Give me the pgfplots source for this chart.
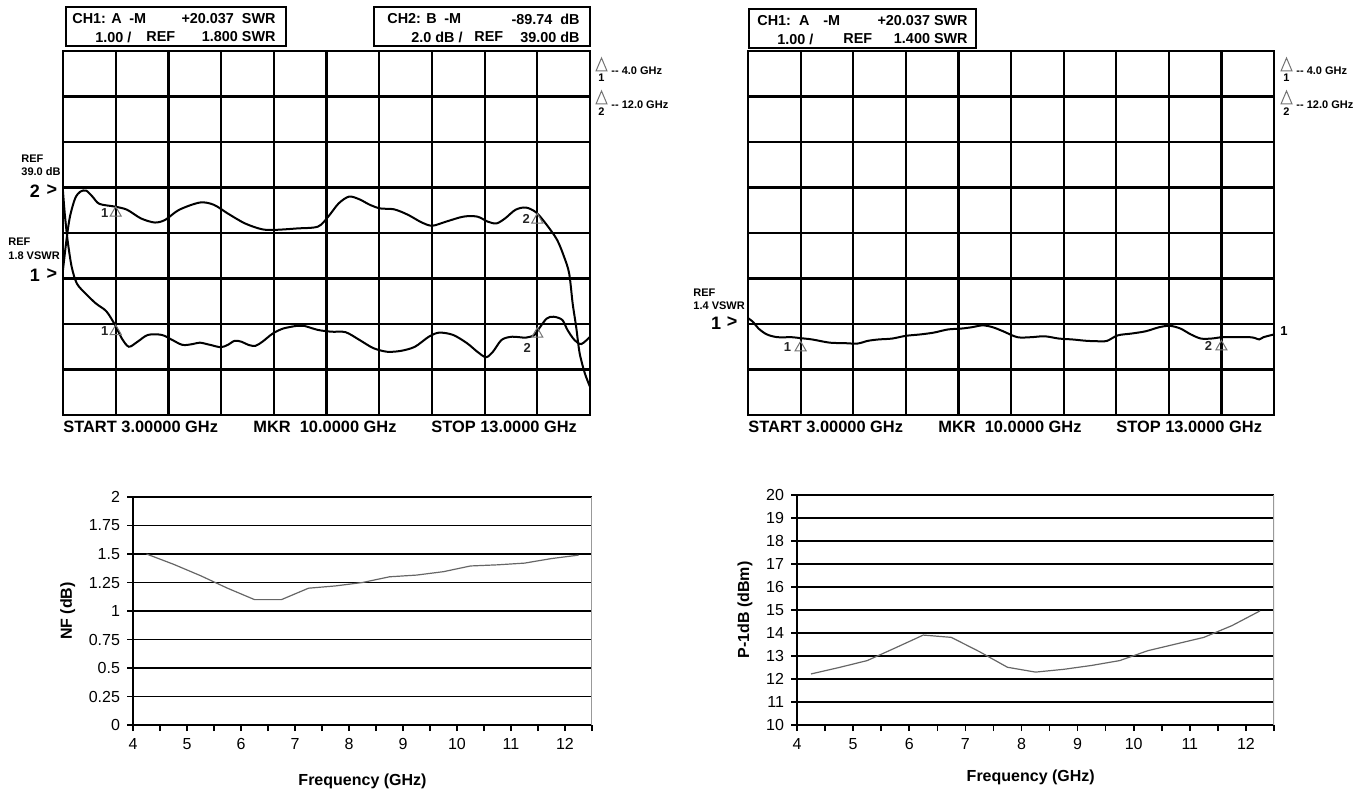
\documentclass[border=0pt]{standalone}
\usepackage{fontspec}
\setmainfont{Liberation Sans}
\usepackage{pgfplots}
\pgfplotsset{compat=1.18}

\newcommand\fs[1]{\fontsize{#1}{#1}\selectfont}

\tikzset{mklab/.style={font=\fs{6.5}\bfseries, text=black!85, inner sep=0pt}}
\pgfplotsset{
  vna/.style={
    scale only axis, width=263.5pt, height=182pt,
    xmin=3, xmax=13, ymin=0, ymax=8,
    xtick={3,...,13}, ytick={0,...,8},
    xticklabels={}, yticklabels={}, major tick length=0pt,
    grid=major, major grid style={black, line width=1.1pt},
    axis line style={black, line width=1.2pt},
  },
  trace/.style={black, line width=1pt, smooth},
  mk/.style={only marks, mark=triangle, mark size=3.2pt,
    mark options={draw=black!55, line width=0.5pt, yshift=-3.2pt}},
  excel/.style={
    scale only axis, anchor=south west,
    axis x line*=bottom, axis y line*=left,
    axis line style={black, line width=0.8pt, -},
    xmin=4, xmax=12.5,
    xtick={4,...,12}, minor xtick={4.5,5.5,...,12.5},
    tick align=outside, major tick length=3pt, minor tick length=3pt,
    tick style={black, line width=0.8pt},
    ymajorgrids, major grid style={black, line width=0.8pt},
    ticklabel style={font=\fs{8}},
    /pgf/number format/assume math mode=true,
    label style={font=\fs{8}\bfseries},
    xlabel={Frequency (GHz)},
  },
  meas/.style={black!60, line width=0.6pt},
}

\begin{document}
\begin{tikzpicture}
\path[use as bounding box] (0,0) rectangle (684pt,396pt);

% ---------------- top left: CH1 SWR and CH2 gain ----------------
\begin{axis}[vna, at={(31.5pt,188.5pt)}, anchor=south west]
% CH2, gain
\addplot[trace] coordinates {
(3.000,3.19) (3.066,3.85) (3.132,4.36) (3.230,4.76) (3.329,4.91) (3.441,4.93)
(3.559,4.80) (3.691,4.64) (3.987,4.58) (4.217,4.51) (4.480,4.32) (4.743,4.23)
(4.941,4.29) (5.204,4.51) (5.599,4.67) (5.862,4.62) (6.125,4.43) (6.454,4.21)
(6.783,4.08) (7.046,4.07) (7.441,4.10) (7.836,4.14) (8.033,4.36) (8.230,4.65)
(8.428,4.80) (8.625,4.74) (8.822,4.62) (9.020,4.54) (9.283,4.52) (9.546,4.40)
(9.809,4.23) (10.007,4.16) (10.270,4.25) (10.599,4.36) (10.862,4.36) (11.059,4.25)
(11.224,4.21) (11.388,4.32) (11.586,4.51) (11.783,4.56) (11.980,4.45) (12.178,4.18)
(12.375,3.85) (12.507,3.48) (12.605,3.11) (12.671,2.45) (12.737,1.94) (12.803,1.36)
(12.901,0.92) (13.000,0.62)};
% CH1, SWR
\addplot[trace] coordinates {
(3.000,4.91) (3.033,4.43) (3.086,3.85) (3.164,3.26) (3.263,2.89) (3.428,2.67)
(3.625,2.45) (3.822,2.28) (3.987,1.98) (4.118,1.68) (4.250,1.50) (4.414,1.61)
(4.612,1.76) (4.875,1.76) (5.072,1.65) (5.270,1.54) (5.467,1.56) (5.599,1.59)
(5.796,1.54) (5.993,1.49) (6.125,1.54) (6.257,1.63) (6.388,1.61) (6.520,1.54)
(6.651,1.52) (6.783,1.61) (6.980,1.79) (7.178,1.90) (7.441,1.96) (7.572,1.96)
(7.836,1.87) (8.099,1.83) (8.362,1.82) (8.625,1.65) (8.888,1.47) (9.151,1.39)
(9.414,1.41) (9.678,1.50) (9.941,1.72) (10.138,1.81) (10.401,1.76) (10.664,1.58)
(10.862,1.39) (11.026,1.27) (11.158,1.39) (11.322,1.65) (11.520,1.72) (11.783,1.70)
(11.947,1.76) (12.033,1.90) (12.178,2.12) (12.309,2.16) (12.474,2.09) (12.572,1.87)
(12.704,1.65) (12.836,1.56) (13.000,1.72)};
\addplot[mk] coordinates {(4,4.58) (12,4.43) (4,1.98) (12,1.92)};
\node[mklab] at (axis cs:4,4.58) [xshift=-5.5pt, yshift=-3pt] {1};
\node[mklab] at (axis cs:12,4.43) [xshift=-5.5pt, yshift=-3pt] {2};
\node[mklab] at (axis cs:4,1.98) [xshift=-5.5pt, yshift=-3pt] {1};
\node[mklab] at (axis cs:12,1.92) [xshift=-5pt, yshift=-10pt] {2};
\end{axis}

% ---------------- top right: CH1 SWR ----------------
\begin{axis}[vna, at={(374pt,188.5pt)}, anchor=south west, width=263pt]
\addplot[trace] coordinates {
(3.00,2.13) (3.10,2.04) (3.20,1.90) (3.36,1.77) (3.56,1.71) (3.83,1.71)
(3.99,1.69) (4.22,1.66) (4.55,1.59) (4.82,1.58) (5.08,1.57) (5.28,1.63)
(5.48,1.66) (5.74,1.68) (6.00,1.74) (6.27,1.77) (6.53,1.81) (6.80,1.88)
(7.06,1.90) (7.26,1.93) (7.46,1.97) (7.65,1.93) (7.85,1.84) (8.12,1.71)
(8.38,1.71) (8.64,1.73) (8.91,1.68) (9.17,1.66) (9.44,1.63) (9.70,1.62)
(9.83,1.63) (10.03,1.75) (10.29,1.79) (10.56,1.84) (10.82,1.93) (11.02,1.96)
(11.22,1.90) (11.42,1.77) (11.61,1.68) (11.81,1.68) (12.01,1.71) (12.21,1.71)
(12.54,1.71) (12.64,1.69) (12.72,1.66) (12.80,1.71) (13.00,1.77)};
\addplot[mk] coordinates {(4,1.62) (12,1.64)};
\node[mklab] at (axis cs:4,1.62) [xshift=-6.5pt, yshift=-3pt] {1};
\node[mklab] at (axis cs:12,1.64) [xshift=-6.5pt, yshift=-3pt] {2};
\end{axis}

% ---------------- bottom left: noise figure ----------------
\begin{axis}[excel, at={(66.5pt,33.5pt)}, width=229.5pt, height=114pt,
  ymin=0, ymax=2,
  ytick={0,0.25,0.5,0.75,1.5,1.75,2},
  extra y ticks={1,1.25},
  extra y tick style={grid style={black!40, line width=0.8pt}},
  ylabel={NF (dB)},
  ylabel style={at={(axis description cs:-0.142,0.5)}, anchor=center},
  xlabel style={at={(axis description cs:0.5,-0.246)}, anchor=center}]
\addplot[meas] coordinates {
(4.25,1.50) (4.75,1.41) (5.25,1.31) (5.75,1.20) (6.25,1.10) (6.75,1.10)
(7.25,1.20) (7.75,1.22) (8.25,1.25) (8.75,1.30) (9.25,1.315) (9.75,1.345)
(10.25,1.395) (10.75,1.405) (11.25,1.42) (11.75,1.46) (12.25,1.49)};
\draw[black!40, line width=0.8pt] (rel axis cs:1,0) -- (rel axis cs:1,1);
\end{axis}

% ---------------- bottom right: P-1dB ----------------
\begin{axis}[excel, at={(398.5pt,33.5pt)}, width=238.5pt, height=115pt,
  ymin=10, ymax=20,
  ytick={10,11,12,13,14,16,17,18,19,20},
  extra y ticks={15},
  extra y tick style={grid style={black!40, line width=0.8pt}},
  xticklabels={4,5,6,7,8,9,\raisebox{-2.5pt}{10},\raisebox{-2.5pt}{11},\raisebox{-2.5pt}{12}},
  ylabel={P-1dB (dBm)},
  ylabel style={at={(axis description cs:-0.109,0.5)}, anchor=center},
  xlabel style={at={(axis description cs:0.49,-0.226)}, anchor=center}]
\addplot[meas] coordinates {
(4.25,12.22) (4.75,12.50) (5.25,12.80) (5.75,13.35) (6.25,13.91) (6.75,13.81)
(7.25,13.19) (7.75,12.51) (8.25,12.30) (8.75,12.42) (9.25,12.59) (9.75,12.80)
(10.25,13.23) (10.75,13.52) (11.25,13.81) (11.75,14.32) (12.25,14.96)};
\draw[black!40, line width=0.8pt] (rel axis cs:1,0) -- (rel axis cs:1,1);
\end{axis}

% ---------------- annotations, in pixel units (y downwards) ----------------
\begin{scope}[x=0.5pt, y=-0.5pt, yshift=396pt, every node/.style={inner sep=0pt}]
% header boxes
\draw[line width=1pt, fill=white] (66,7) rectangle (286,46);
\draw[line width=1pt, fill=white] (374,7) rectangle (590,46);
\draw[line width=1pt, fill=white] (749,9) rectangle (976,48);
\begin{scope}[every node/.append style={font=\fs{7.2}\bfseries}]
\node[anchor=west] at (72,19) {CH1: A};
\node[anchor=west] at (129,19) {-M};
\node[anchor=east] at (276,19) {+20.037\ \ SWR};
\node[anchor=west] at (95,37) {1.00 /};
\node[anchor=west] at (146,37) {REF};
\node[anchor=east] at (276,37) {1.800 SWR};
\node[anchor=west] at (387,19) {CH2: B};
\node[anchor=west] at (444,19) {-M};
\node[anchor=east] at (580,19) {-89.74\ \ dB};
\node[anchor=west] at (411,37) {2.0 dB /};
\node[anchor=west] at (474,37) {REF};
\node[anchor=east] at (580,37) {39.00 dB};
\node[anchor=west] at (757,21) {CH1:\ \ A};
\node[anchor=west] at (823,21) {-M};
\node[anchor=east] at (968,21) {+20.037 SWR};
\node[anchor=west] at (777,39) {1.00 /};
\node[anchor=west] at (843,39) {REF};
\node[anchor=east] at (968,39) {1.400 SWR};
\end{scope}
% reference labels
\begin{scope}[every node/.append style={font=\fs{5.5}\bfseries, anchor=west}]
\node at (21,159) {REF};
\node at (21,172) {39.0 dB};
\node at (8,242) {REF};
\node at (8,256) {1.8 VSWR};
\node at (693,293) {REF};
\node at (693,306) {1.4 VSWR};
\end{scope}
\begin{scope}[every node/.append style={font=\fs{9}\bfseries}]
\node at (35,191) {2};
\node at (52,190) {>};
\node at (35,275) {1};
\node at (52,274) {>};
\node at (716,323) {1};
\node at (732,322) {>};
\end{scope}
\node[font=\fs{6.5}\bfseries] at (1284,331) {1};
% marker legends
\foreach \dx in {0,685} {
  \draw[black!55, line width=0.5pt] (596+\dx,71) -- (601.5+\dx,58) -- (607+\dx,71) -- cycle;
  \draw[black!55, line width=0.5pt] (596+\dx,104) -- (601.5+\dx,91) -- (607+\dx,104) -- cycle;
  \node[font=\fs{5.5}\bfseries] at (601.5+\dx,78) {1};
  \node[font=\fs{5.5}\bfseries] at (601.5+\dx,112) {2};
  \node[font=\fs{5.5}\bfseries, anchor=west] at (611+\dx,71) {-{}- 4.0 GHz};
  \node[font=\fs{5.5}\bfseries, anchor=west] at (611+\dx,105) {-{}- 12.0 GHz};
}
% frequency span lines
\begin{scope}[every node/.append style={font=\fs{8.2}\bfseries, anchor=west}]
\node at (63,427) {START 3.00000 GHz};
\node at (253,427) {MKR\ \ 10.0000 GHz};
\node at (431,427) {STOP 13.0000 GHz};
\node at (748,427) {START 3.00000 GHz};
\node at (938,427) {MKR\ \ 10.0000 GHz};
\node at (1116,427) {STOP 13.0000 GHz};
\end{scope}
\end{scope}
\end{tikzpicture}
\end{document}
